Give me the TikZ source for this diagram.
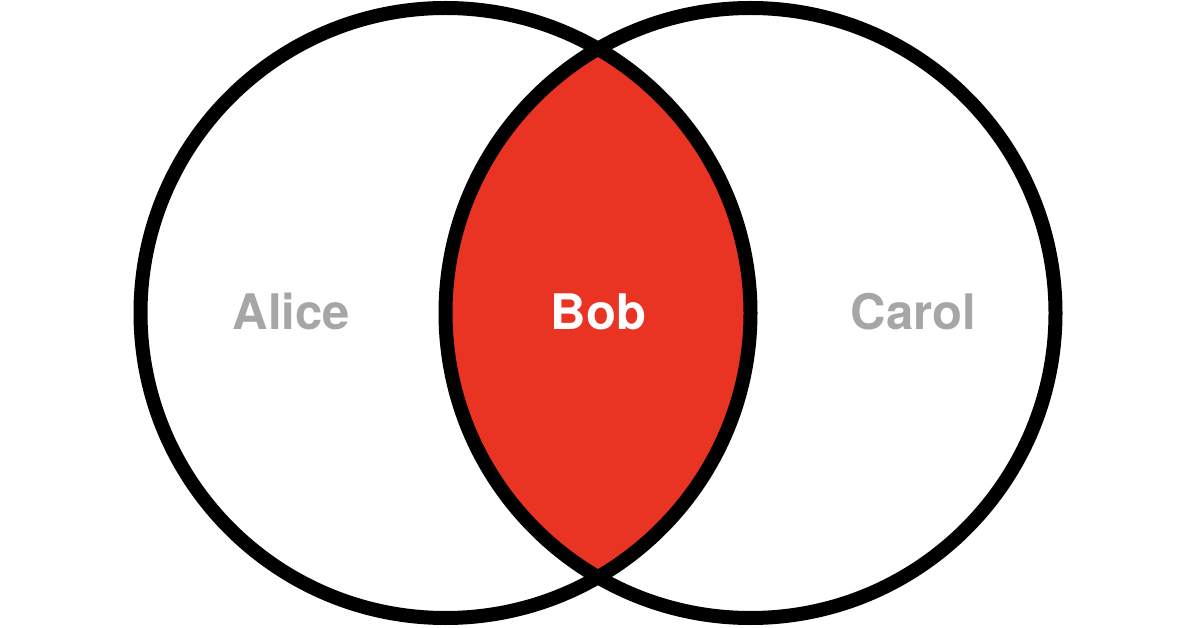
\documentclass[tikz,border=0pt]{standalone}
\usepackage{fontspec}
\setmainfont{TeX Gyre Heros}
\definecolor{lensred}{RGB}{233,52,36}
\definecolor{labelgray}{RGB}{166,166,166}
\begin{document}
\begin{tikzpicture}[x=1pt,y=-1pt,
  ring/.style={draw=black,line width=14pt},
  lbl/.style={font=\fontsize{49}{52}\selectfont\bfseries,anchor=base,inner sep=0pt}]
\useasboundingbox[fill=white] (0,0) rectangle (1200,628);
\coordinate (cl) at (445.5,313);
\coordinate (cr) at (750.5,313);
\begin{scope}
  \clip (cl) circle[radius=305];
  \fill[lensred] (cr) circle[radius=305];
\end{scope}
\draw[ring] (cl) circle[radius=305];
\draw[ring] (cr) circle[radius=305];
\node[lbl,text=labelgray] (alice) at (291.5,330) {Alice};
\node[lbl,text=white] (bob) at (598.5,330) {Bob};
\node[lbl,text=labelgray] (carol) at (913.5,330) {Carol};
\end{tikzpicture}
\end{document}
